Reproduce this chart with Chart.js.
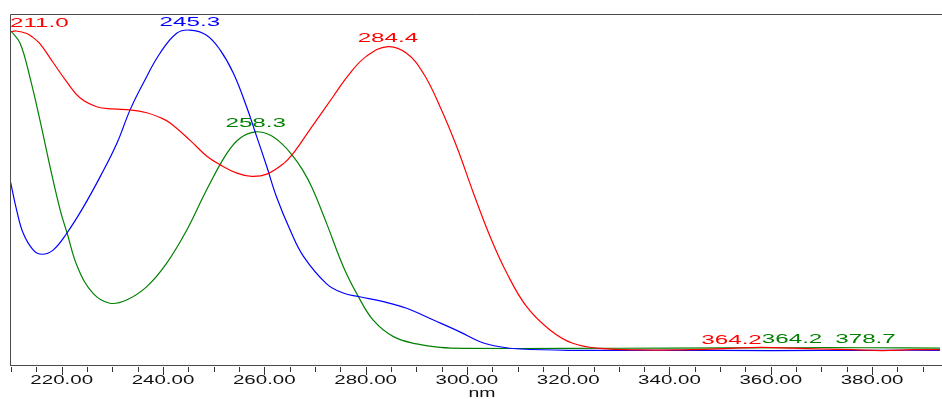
<!DOCTYPE html>
<html>
<head>
<meta charset="utf-8">
<script src="https://cdn.jsdelivr.net/npm/chart.js@4.4.0/dist/chart.umd.min.js"></script>
<style>
html, body { margin: 0; padding: 0; background: #fff; }
</style>
</head>
<body>
<canvas id="myChart" width="942" height="399"></canvas>
<script>
// wavelength (nm) / absorbance pairs
const redNm = [210.0, 211.0, 213.1, 214.3, 215.7, 218.3, 221.0, 223.6, 226.9, 230.1, 233.5, 236.8, 239.4, 241.4, 245.3, 248.6, 251.3, 254.6, 257.5, 260.5, 263.8, 265.7, 269.0, 273.6, 276.9, 280.2, 284.4, 288.1, 291.4, 294.7, 298.0, 301.3, 304.6, 307.9, 311.8, 316.4, 320.9, 326.3, 334.2, 345.0, 352.0, 358.0, 364.2, 370.0, 376.0, 382.0, 388.0, 393.4];
const redAbs = [0.998, 1.000, 0.992, 0.980, 0.960, 0.901, 0.840, 0.790, 0.762, 0.755, 0.752, 0.743, 0.728, 0.711, 0.657, 0.607, 0.579, 0.553, 0.543, 0.550, 0.583, 0.615, 0.690, 0.794, 0.867, 0.921, 0.951, 0.930, 0.867, 0.762, 0.636, 0.490, 0.353, 0.238, 0.133, 0.060, 0.018, 0.002, -0.003, -0.002, 0.002, 0.005, 0.003, 0.000, -0.002, -0.005, -0.002, -0.002];

const blueNm = [209.9, 211.1, 212.4, 214.4, 216.1, 218.3, 221.0, 224.3, 227.6, 230.9, 233.5, 236.1, 239.4, 242.7, 245.3, 248.6, 251.3, 253.9, 256.5, 258.5, 260.5, 262.4, 265.1, 267.7, 272.3, 275.6, 278.6, 283.5, 288.1, 293.4, 298.6, 302.6, 306.5, 310.5, 320.0, 340.0, 360.0, 380.0, 393.4];
const blueAbs = [0.525, 0.437, 0.364, 0.311, 0.298, 0.311, 0.364, 0.447, 0.542, 0.647, 0.752, 0.836, 0.930, 0.993, 1.003, 0.987, 0.940, 0.867, 0.762, 0.668, 0.573, 0.479, 0.374, 0.292, 0.205, 0.176, 0.165, 0.149, 0.128, 0.091, 0.054, 0.023, 0.007, 0.000, -0.004, -0.004, -0.005, -0.004, -0.004];

const greenNm = [210.0, 211.8, 213.7, 215.7, 217.7, 219.7, 221.0, 223.2, 226.2, 229.5, 232.8, 236.8, 240.7, 244.7, 248.6, 252.6, 255.2, 258.3, 261.1, 263.5, 265.5, 267.5, 269.5, 272.3, 275.6, 278.6, 281.5, 285.5, 290.1, 294.7, 300.0, 320.0, 340.0, 364.2, 378.7, 393.4];
const greenAbs = [1.000, 0.961, 0.856, 0.720, 0.573, 0.437, 0.368, 0.255, 0.175, 0.144, 0.154, 0.196, 0.269, 0.374, 0.500, 0.615, 0.663, 0.683, 0.673, 0.645, 0.610, 0.565, 0.505, 0.395, 0.259, 0.164, 0.091, 0.039, 0.016, 0.005, 0.002, 0.002, 0.003, 0.004, 0.004, 0.003];

// peak labels
const labelNm = [211.0, 245.3, 258.3, 284.4, 364.2, 364.2, 378.7];
const labelAbs = [1.000, 1.003, 0.683, 0.951, 0.003, 0.004, 0.004];
const labelSeries = ["red", "blue", "green", "red", "red", "green", "green"];

// x axis ticks
const tickNm = [210, 215, 220, 225, 230, 235, 240, 245, 250, 255, 260, 265, 270, 275, 280, 285, 290, 295, 300, 305, 310, 315, 320, 325, 330, 335, 340, 345, 350, 355, 360, 365, 370, 375, 380, 385, 390];
const tickLabelNm = [220, 240, 260, 280, 300, 320, 340, 360, 380];

const colors = { red: "#ff0000", blue: "#0000ff", green: "#008000" };

function pts(xs, ys) {
  return xs.map(function (x, i) { return { x: x, y: ys[i] }; });
}

function stretchText(ctx, text, x, y, sx) {
  ctx.save();
  ctx.translate(x, y);
  ctx.scale(sx, 1);
  ctx.textAlign = "left";
  ctx.fillText(text, 0, 0);
  ctx.restore();
}

const axisPlugin = {
  id: "axisPlugin",
  afterDraw(chart) {
    const ctx = chart.ctx;
    const a = chart.chartArea;
    const xs = chart.scales.x;
    const ys = chart.scales.y;
    const W = chart.width;

    // frame
    ctx.save();
    ctx.strokeStyle = "#4a4a4a";
    ctx.lineWidth = 1;
    ctx.beginPath();
    ctx.moveTo(a.left + 0.5, a.top + 0.5);
    ctx.lineTo(W, a.top + 0.5);
    ctx.moveTo(a.left + 0.5, a.top + 0.5);
    ctx.lineTo(a.left + 0.5, a.bottom + 0.5);
    ctx.moveTo(a.left, a.bottom + 0.5);
    ctx.lineTo(W, a.bottom + 0.5);
    ctx.stroke();

    // ticks
    ctx.strokeStyle = "#333";
    ctx.beginPath();
    tickNm.forEach(function (v) {
      const px = Math.round(xs.getPixelForValue(v)) + 0.5;
      const len = v % 20 === 0 ? 8 : 5;
      ctx.moveTo(px, a.bottom + 2);
      ctx.lineTo(px, a.bottom + 2 + len);
    });
    ctx.stroke();

    // tick labels
    ctx.fillStyle = "#111";
    ctx.font = "12px 'Liberation Sans', Arial, sans-serif";
    ctx.textBaseline = "alphabetic";
    const sx = 1.71;
    tickLabelNm.forEach(function (v) {
      const t = v.toFixed(2);
      const w = ctx.measureText(t).width * sx;
      stretchText(ctx, t, xs.getPixelForValue(v) - w / 2, a.bottom + 18.5, sx);
    });
    const tw = ctx.measureText("nm").width * 1.62;
    stretchText(ctx, "nm", (a.left + a.right) / 2 + 7 - tw / 2, a.bottom + 31.5, 1.62);

    // peak labels
    ctx.font = "13px 'Liberation Sans', Arial, sans-serif";
    const lsx = 1.86;
    const boxes = [];
    for (let i = labelNm.length - 1; i >= 0; i--) {
      const t = labelNm[i].toFixed(1);
      const w = ctx.measureText(t).width * lsx;
      let left = xs.getPixelForValue(labelNm[i]) - w / 2;
      const base = ys.getPixelForValue(labelAbs[i]) - 4.5;
      boxes.forEach(function (b) {
        if (Math.abs(b.base - base) < 10 && left + w > b.left && left < b.left + b.w) {
          left = b.left - w;
        }
      });
      if (left < a.left) left = a.left;
      boxes.push({ left: left, w: w, base: base });
      ctx.fillStyle = colors[labelSeries[i]];
      stretchText(ctx, t, left, base, lsx);
    }
    ctx.restore();
  }
};

const config = {
  type: "line",
  data: {
    datasets: [
      { label: "red", data: pts(redNm, redAbs), borderColor: colors.red },
      { label: "blue", data: pts(blueNm, blueAbs), borderColor: colors.blue },
      { label: "green", data: pts(greenNm, greenAbs), borderColor: colors.green },
    ],
  },
  options: {
    responsive: false,
    animation: false,
    devicePixelRatio: 1,
    layout: { padding: { left: 10, top: 14, right: 2, bottom: 34 } },
    datasets: {
      line: {
        borderWidth: 1.2,
        pointRadius: 0,
        fill: false,
        tension: 0.4,
      },
    },
    plugins: { legend: { display: false }, tooltip: { enabled: false } },
    scales: {
      x: { type: "linear", min: 209.79, max: 393.41, display: false },
      y: { min: -0.0503, max: 1.0535, display: false },
    },
  },
  plugins: [axisPlugin],
};

new Chart(document.getElementById("myChart"), config);
</script>
</body>
</html>
